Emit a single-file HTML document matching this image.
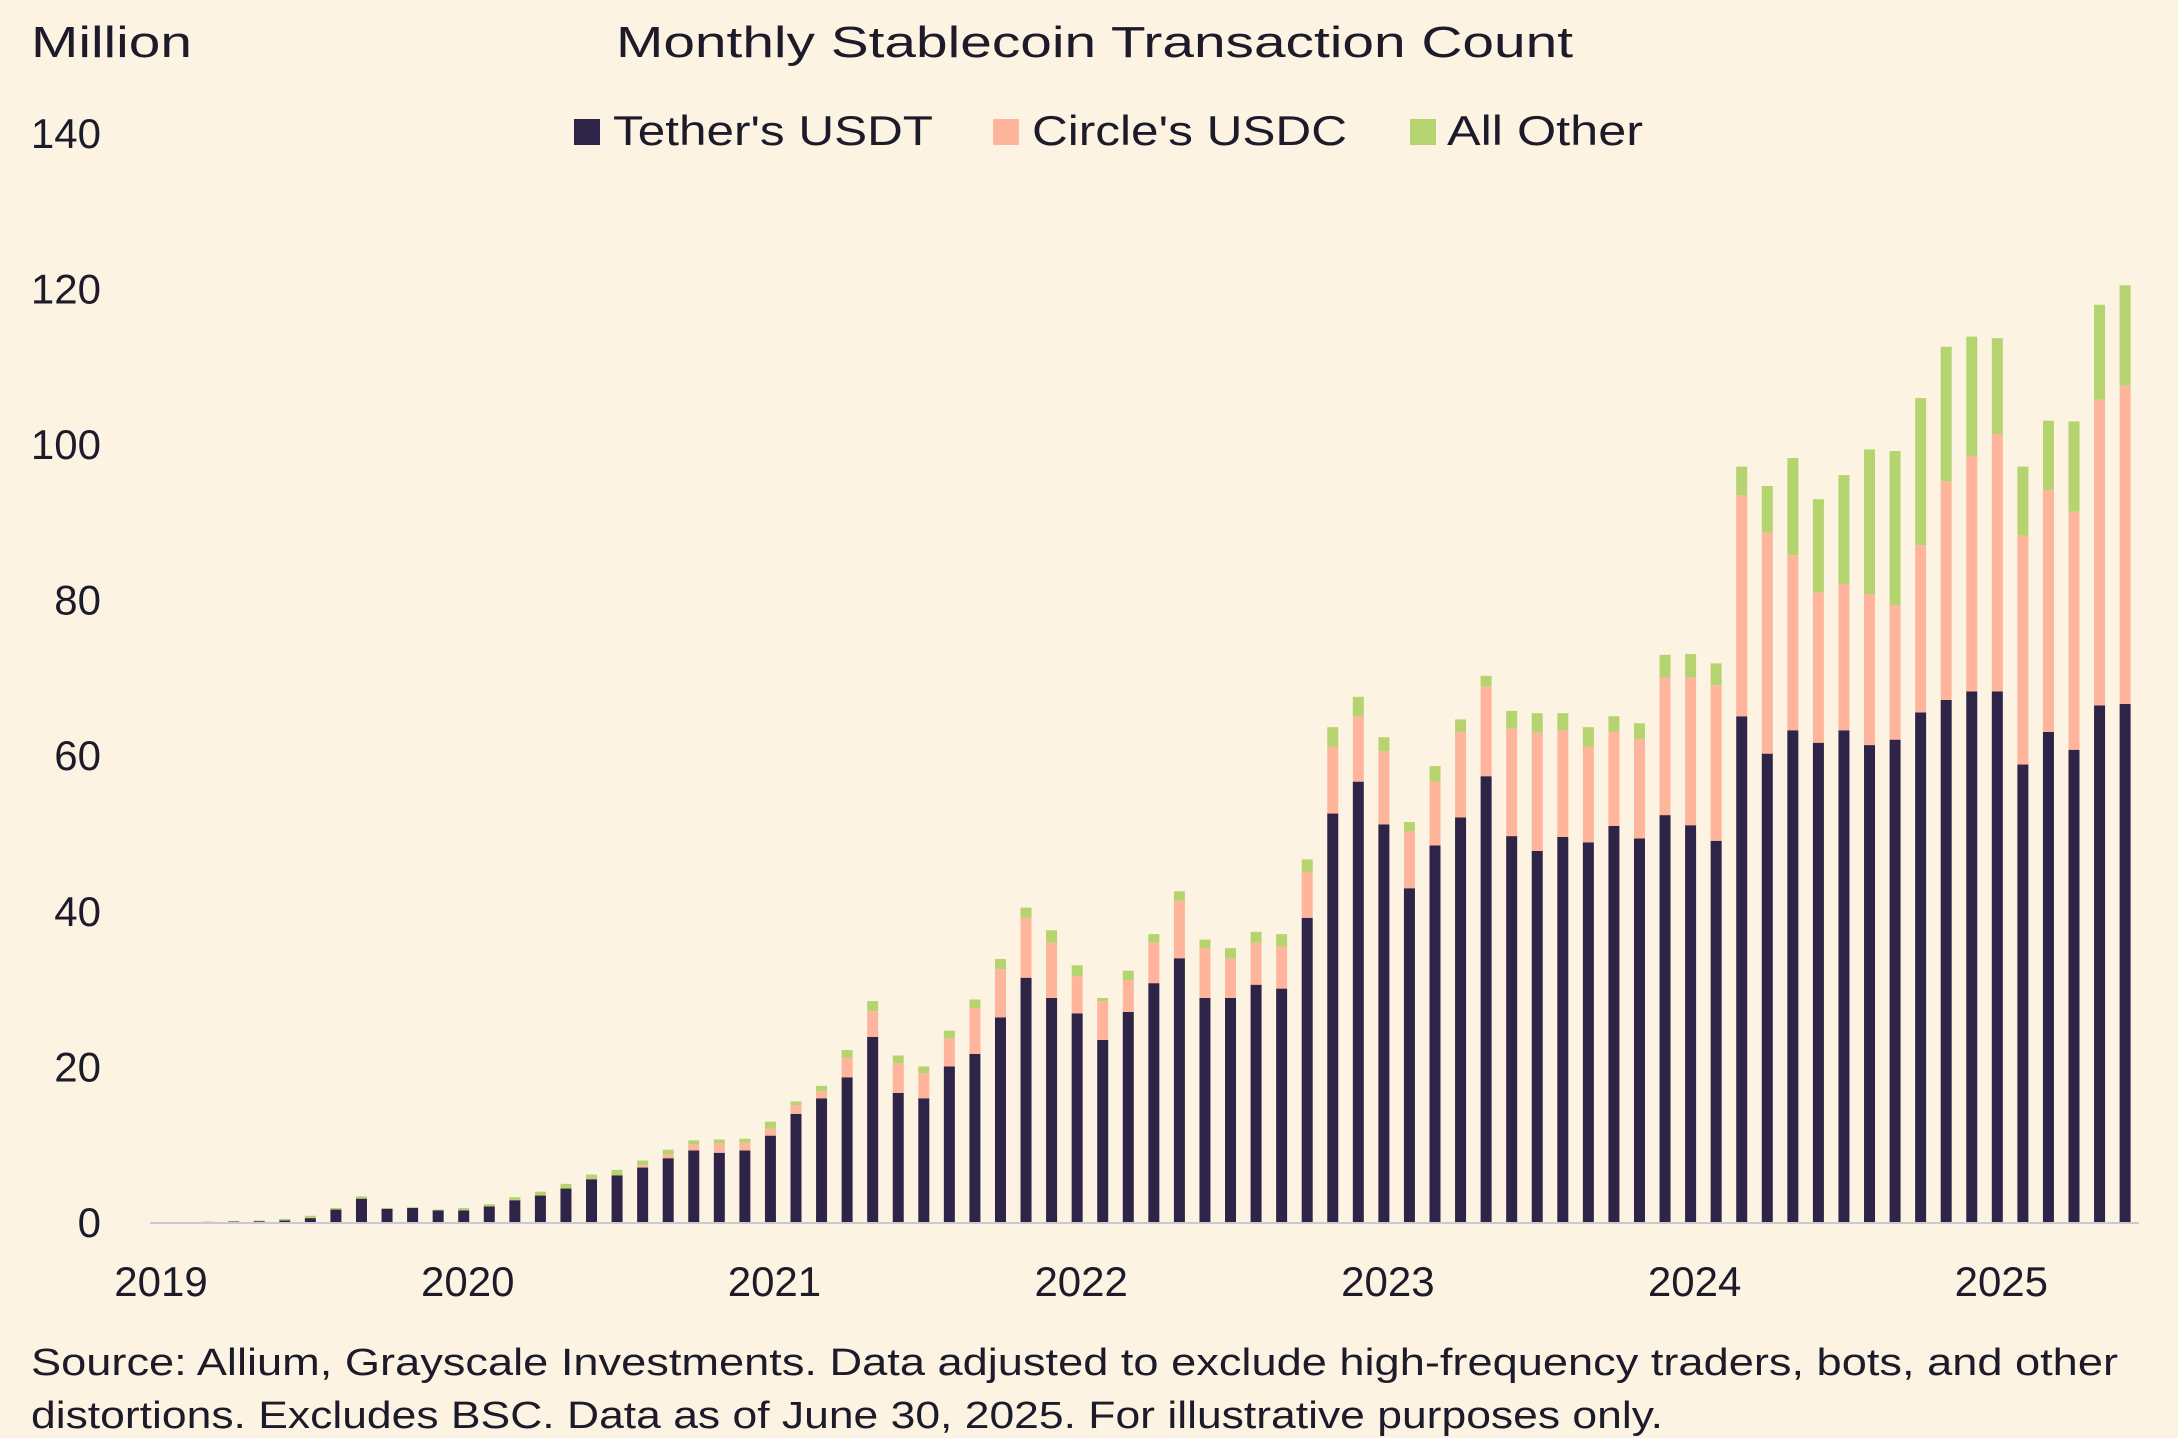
<!DOCTYPE html>
<html><head><meta charset="utf-8"><style>
html,body{margin:0;padding:0;background:#fdf3e3;}
svg{display:block;font-family:"Liberation Sans",sans-serif;}
</style></head><body>
<svg id="chart" width="2178" height="1438" viewBox="0 0 2178 1438" xmlns="http://www.w3.org/2000/svg">
<rect x="0" y="0" width="2178" height="1438" fill="#fdf3e3"/>
<text x="31" y="57" font-size="44" fill="#1d1a2a" textLength="161" lengthAdjust="spacingAndGlyphs">Million</text>
<text x="616" y="57" font-size="44" fill="#1d1a2a" textLength="957" lengthAdjust="spacingAndGlyphs">Monthly Stablecoin Transaction Count</text>
<g>
<g><rect x="574" y="119" width="26" height="26" fill="#2e2447"/><text x="613" y="145" font-size="42" fill="#1d1a2a" textLength="320" lengthAdjust="spacingAndGlyphs">Tether's USDT</text></g>
<g><rect x="993" y="119" width="26" height="26" fill="#ffb59b"/><text x="1032" y="145" font-size="42" fill="#1d1a2a" textLength="315" lengthAdjust="spacingAndGlyphs">Circle's USDC</text></g>
<g><rect x="1410" y="119" width="26" height="26" fill="#b5d36e"/><text x="1447" y="145" font-size="42" fill="#1d1a2a" textLength="196" lengthAdjust="spacingAndGlyphs">All Other</text></g>
</g>
<g id="yaxis"></g>
<g id="xaxis"></g>
<g id="bars"></g>
<line x1="150" y1="1223" x2="2139" y2="1223" stroke="#c9c9d6" stroke-width="2"/>
<text x="31" y="1375" font-size="38" fill="#1d1a2a" textLength="2087" lengthAdjust="spacingAndGlyphs">Source: Allium, Grayscale Investments. Data adjusted to exclude high-frequency traders, bots, and other</text>
<text x="31" y="1428" font-size="38" fill="#1d1a2a" textLength="1632" lengthAdjust="spacingAndGlyphs">distortions. Excludes BSC. Data as of June 30, 2025. For illustrative purposes only.</text>
</svg>
<script>
const yTicks = [0,20,40,60,80,100,120,140];
const xYears = ["2019","2020","2021","2022","2023","2024","2025"];
const usdt = [0,0,0,0.05,0.1,0.2,0.5,1.6,3.0,1.7,1.8,1.5,
1.5,2.0,2.8,3.4,4.3,5.5,6,7,8.2,9.2,8.9,9.2,
11.1,13.9,15.9,18.6,23.8,16.6,15.9,20,21.6,26.3,31.4,28.8,
26.8,23.4,27,30.7,33.9,28.8,28.8,30.5,30,39.1,52.5,56.6,
51.1,42.9,48.4,52,57.3,49.6,47.7,49.5,48.8,50.9,49.3,52.3,
51,49,65,60.2,63.2,61.6,63.2,61.3,62,65.5,67.1,68.2,
68.2,58.8,63,60.7,66.4,66.6];
const usdc = [0,0,0,0,0,0,0,0,0,0,0,0,
0,0,0,0,0,0,0,0.3,0.5,0.8,1.2,1.0,
0.9,1.1,0.9,2.5,3.3,3.8,3.2,3.6,5.9,6.2,7.7,7.1,
4.8,5.0,4.1,5.2,7.4,6.4,5.1,5.4,5.4,5.9,8.6,8.4,
9.4,7.3,8.2,11,11.5,13.8,15.2,13.7,12.3,12.1,12.8,17.7,
19,20,28.4,28.4,22.5,19.3,18.8,19.4,17.3,21.5,28.1,30.2,
33.1,29.4,31.1,30.6,39.3,40.9];
const other = [0,0,0.05,0.1,0.1,0.2,0.3,0.2,0.3,0.1,0.1,0.1,
0.3,0.3,0.4,0.5,0.6,0.6,0.7,0.6,0.6,0.5,0.5,0.5,
0.9,0.5,0.7,1.0,1.3,1.0,0.9,1.0,1.1,1.3,1.3,1.6,
1.4,0.4,1.2,1.1,1.2,1.1,1.3,1.4,1.6,1.6,2.5,2.5,
1.8,1.2,2.0,1.6,1.4,2.3,2.5,2.2,2.5,2.0,2.0,2.9,
3.0,2.8,3.7,6.0,12.5,12.0,14.0,18.6,19.8,18.9,17.3,15.4,
12.3,8.9,8.9,11.6,12.2,12.9];
const NS="http://www.w3.org/2000/svg";
const y0=1222, pxPerUnit=7.78, x0=157, step=25.56, bw=11;
function yScale(v){return y0 - v*pxPerUnit;}
function xScale(i){return x0 + i*step;}
function mk(tag,attrs,parent){const e=document.createElementNS(NS,tag);for(const k in attrs)e.setAttribute(k,attrs[k]);parent.appendChild(e);return e;}
const ya=document.getElementById('yaxis');
yTicks.forEach(v=>{
  const t=mk('text',{x:101,y:yScale(v)+15,'font-size':42,fill:'#1d1a2a','text-anchor':'end'},ya);
  
  
  t.textContent=String(v);
});
const xa=document.getElementById('xaxis');
xYears.forEach((yr,k)=>{
  const t=mk('text',{x:xScale(k*12)+4,y:1296,'font-size':42,fill:'#1d1a2a','text-anchor':'middle'},xa);
  
  
  t.textContent=yr;
});
const bg=document.getElementById('bars');
usdt.forEach((a,i)=>{
  const b=usdc[i], c=other[i];
  const x=xScale(i)-bw/2;
  const segs=[[0,a,'#2e2447','bar-usdt'],[a,a+b,'#ffb59b','bar-usdc'],[a+b,a+b+c,'#b5d36e','bar-other']];
  segs.forEach(s=>{
    if(s[1]-s[0]<=0)return;
    const r=mk('rect',{x:x,y:yScale(s[1]),width:bw,height:yScale(s[0])-yScale(s[1]),fill:s[2]},bg);
    
    
  });
});
</script>
</body></html>
